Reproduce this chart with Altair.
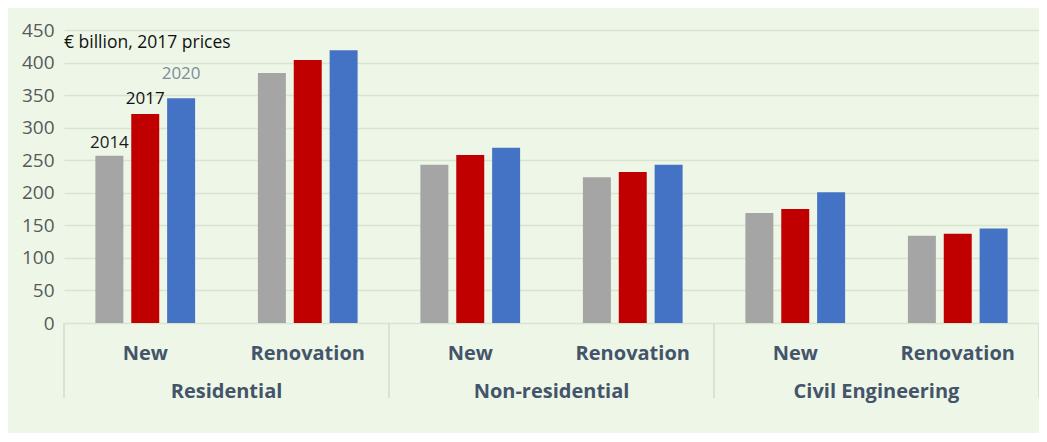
import altair as alt
import pandas as pd

groups = ["Residential", "Residential", "Non-residential", "Non-residential",
          "Civil Engineering", "Civil Engineering"]
types = ["New", "Renovation", "New", "Renovation", "New", "Renovation"]
years = ["2014", "2017", "2020"]
v2014 = [257, 384, 243, 224, 169, 134]
v2017 = [321, 404, 258, 232, 175, 137]
v2020 = [345, 419, 269, 243, 201, 145]
year_colors = ["#A5A5A5", "#C00000", "#4472C4"]
label_colors = ["#1a1a1a", "#111111", "#7f8b98"]
label_dy = [-8, -10, -19]
y_ticks = [0, 50, 100, 150, 200, 250, 300, 350, 400, 450]
unit_note = "€ billion, 2017 prices"

cats = [g + "|" + t for g, t in zip(groups, types)]
rows = []
for i, c in enumerate(cats):
    for y, vals in zip(years, [v2014, v2017, v2020]):
        rows.append({"cat": c, "group": groups[i], "type": types[i], "year": y, "value": vals[i]})
df = pd.DataFrame(rows)

W, H = 975, 293
FONT = "Open Sans"
BG = "#EEF7E7"

xscale = alt.Scale(paddingInner=0, paddingOuter=0)
xenc = alt.X("cat:N", sort=cats, scale=xscale, axis=None)
yaxis = alt.Axis(values=y_ticks, grid=True, gridColor="#d8e4cf", gridWidth=1.5,
                 domain=False, ticks=False, labelFont=FONT, labelFontSize=19,
                 labelColor="#595959", labelPadding=10, title=None,
                 labelOverlap=False, labelFlush=False)
yscale = alt.Scale(domain=[0, 450], nice=False)

bars = alt.Chart(df).mark_bar().encode(
    x=xenc,
    xOffset=alt.XOffset("year:N", scale=alt.Scale(paddingInner=0.22, paddingOuter=0.875)),
    y=alt.Y("value:Q", scale=yscale, axis=yaxis),
    color=alt.Color("year:N", scale=alt.Scale(domain=years, range=year_colors), legend=None),
)

layers = [bars]

# year annotations above Residential / New bars
first = df[df["cat"] == cats[0]]
for y, col, dy in zip(years, label_colors, label_dy):
    layers.append(
        alt.Chart(first[first["year"] == y]).mark_text(
            font=FONT, fontSize=17, color=col, baseline="alphabetic", dy=dy
        ).encode(
            x=alt.X("cat:N", sort=cats),
            xOffset=alt.XOffset("year:N"),
            y=alt.Y("value:Q", scale=yscale, axis=yaxis),
            text="year:N",
        )
    )

sub_df = pd.DataFrame({"cat": cats, "type": types})
layers.append(
    alt.Chart(sub_df).mark_text(font=FONT, fontSize=20, fontWeight="bold",
                                color="#44546A", baseline="alphabetic").encode(
        x=alt.X("cat:N", sort=cats), y=alt.value(H + 37), text="type:N")
)

grp_df = pd.DataFrame({"cat": cats[0::2], "group": groups[0::2]})
layers.append(
    alt.Chart(grp_df).mark_text(font=FONT, fontSize=20, fontWeight="bold",
                                color="#44546A", baseline="alphabetic").encode(
        x=alt.X("cat:N", sort=cats, bandPosition=1), y=alt.value(H + 75), text="group:N")
)

sep_left = pd.DataFrame({"cat": cats[0::2]})
sep_right = pd.DataFrame({"cat": [cats[-1]]})
for d, bp in [(sep_left, 0), (sep_right, 1)]:
    layers.append(
        alt.Chart(d).mark_rule(color="#d3dccb", strokeWidth=1.5).encode(
            x=alt.X("cat:N", sort=cats, bandPosition=bp),
            y=alt.value(H), y2=alt.value(H + 75))
    )

note_df = pd.DataFrame({"note": [unit_note]})
layers.append(
    alt.Chart(note_df).mark_text(font=FONT, fontSize=17.5, color="#111111", align="left",
                                 baseline="alphabetic").encode(
        x=alt.value(0), y=alt.value(18), text="note:N")
)

chart = alt.layer(*layers).properties(
    width=W, height=H,
    background=BG,
    padding={"left": 56, "top": 22, "right": 0, "bottom": 110},
    autosize=alt.AutoSizeParams(type="none"),
).configure_view(strokeWidth=0)

chart.save("out.html", embed_options={"renderer": "svg", "actions": False})
